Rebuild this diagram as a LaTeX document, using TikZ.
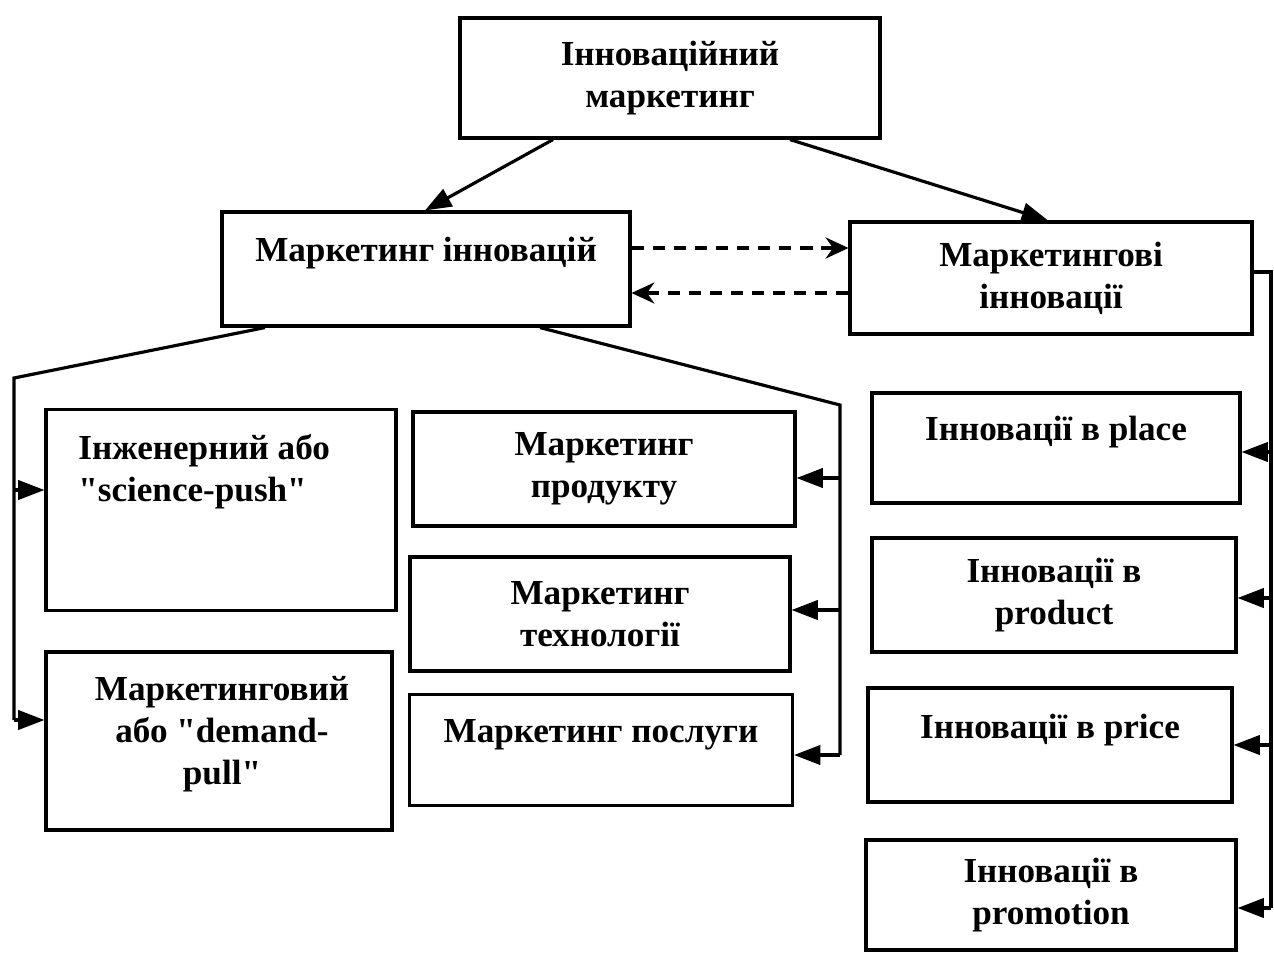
\documentclass[tikz,border=0pt]{standalone}
\usepackage{fontspec}
\setmainfont{Liberation Serif}
\usetikzlibrary{arrows.meta}

\tikzset{
  box/.style={draw,line width=1.8pt,inner sep=0pt,align=center,
    font=\bfseries\fontsize{20}{24}\selectfont},
  txt/.style={inner sep=0pt,align=center,font=\bfseries\fontsize{20}{24}\selectfont},
  link/.style={line width=1.8pt,-{Triangle[length=15pt,width=11pt]}},
  swap/.style={line width=1.8pt,dash pattern=on 7pt off 5pt,
    -{Stealth[length=13pt,width=12pt]}}
}

\begin{document}
\begin{tikzpicture}[x=0.02cm,y=-0.02cm]
\useasboundingbox (0,0) rectangle (1274,954);

\node[box,minimum width=8.4cm,minimum height=2.4cm] (im) at (670,78) {Інноваційний\\маркетинг};
\node[box,minimum width=8.16cm,minimum height=2.28cm] (mi) at (426,269) {};
\node[txt] (mit) at (426,253) {Маркетинг інновацій};
\node[box,minimum width=8.04cm,minimum height=2.24cm] (mk) at (1051,278) {Маркетингові\\інновації};

\node[box,minimum width=7cm,minimum height=4.02cm] (eng) at (221,510) {};
\node[txt,align=left,anchor=north west] (engt) at (78,434) {Інженерний або\\\textquotedbl science-push\textquotedbl};
\node[box,minimum width=6.92cm,minimum height=3.56cm] (dem) at (219,741) {};
\node[txt] (demt) at (222,734) {Маркетинговий\\або \textquotedbl demand-\\pull\textquotedbl};

\node[box,minimum width=7.64cm,minimum height=2.28cm] (prod) at (604,469) {Маркетинг\\продукту};
\node[box,minimum width=7.6cm,minimum height=2.28cm] (tech) at (600,614) {Маркетинг\\технології};
\node[box,minimum width=7.66cm,minimum height=2.22cm] (serv) at (601,750) {};
\node[txt] (servt) at (601,735) {Маркетинг послуги};

\node[box,minimum width=7.36cm,minimum height=2.2cm] (place) at (1056,448) {};
\node[txt] (placet) at (1056,432) {Інновації в place};
\node[box,minimum width=7.28cm,minimum height=2.28cm] (pr) at (1054,595) {Інновації в\\product};
\node[box,minimum width=7.28cm,minimum height=2.28cm] (price) at (1050,745) {};
\node[txt] (pricet) at (1050,730) {Інновації в price};
\node[box,minimum width=7.4cm,minimum height=2.2cm] (promo) at (1051,895) {Інновації в\\promotion};

\draw[link] (im.south -| 553,0) -- (mi.north -| 425,0);
\draw[link] (im.south -| 790,0) -- (mk.north -| 1048,0);
\draw[swap] (mi.east |- 0,248) -- (mk.west |- 0,248);
\draw[swap] (mk.west |- 0,293) -- (mi.east |- 0,293);

\coordinate (lt) at (14,378);
\coordinate (lb) at (14,720);
\draw[line width=1.8pt] (mi.south -| 265,0) -- (lt) -- (lb);
\draw[link] (14,490) -- (eng.west |- 0,490);
\draw[link] (lb) -- (dem.west |- lb);

\coordinate (mt) at (840,405);
\coordinate (mb) at (840,755);
\draw[line width=1.8pt] (mi.south -| 540,0) -- (mt) -- (mb);
\draw[link] (840,478) -- (prod.east |- 0,478);
\draw[link] (840,610) -- (tech.east |- 0,610);
\draw[link] (mb) -- (serv.east |- mb);

\coordinate (rt) at (1271,272);
\coordinate (rb) at (1271,908);
\draw[line width=1.8pt] (mk.east |- rt) -- (rt) -- (rb);
\draw[link] (1271,452) -- (place.east |- 0,452);
\draw[link] (1271,598) -- (pr.east |- 0,598);
\draw[link] (1271,745) -- (price.east |- 0,745);
\draw[link] (rb) -- (promo.east |- rb);
\end{tikzpicture}
\end{document}
